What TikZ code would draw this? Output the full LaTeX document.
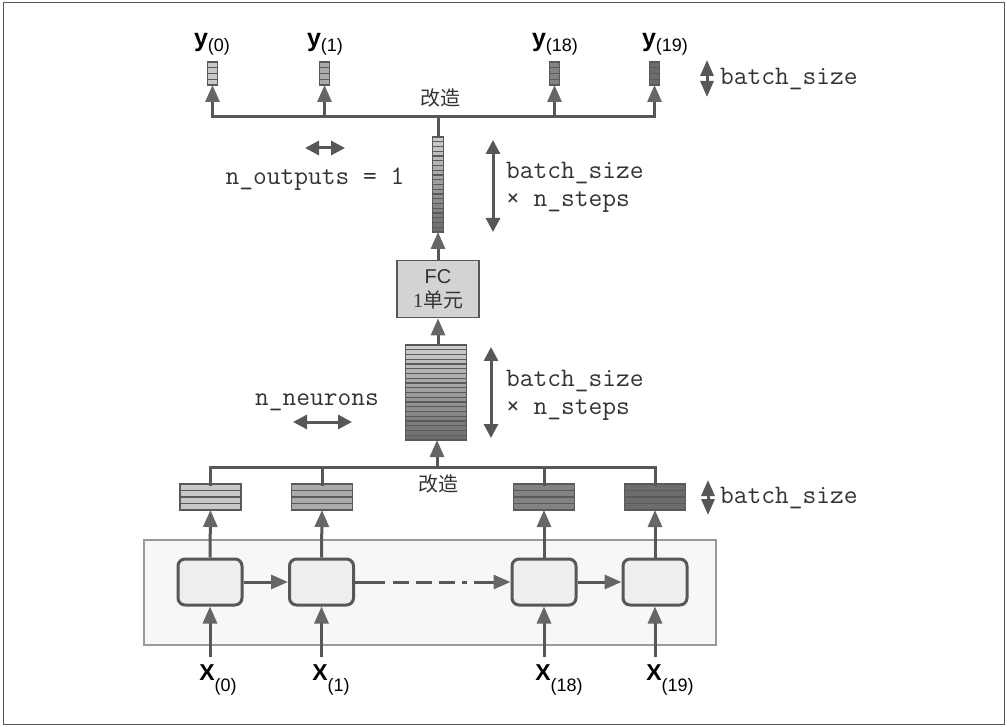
\documentclass[tikz,border=0pt]{standalone}
\usepackage{fontspec}
\setmainfont{Liberation Sans}
\newfontfamily\cjk{Noto Sans CJK SC}
\newfontfamily\serifone{Liberation Serif}
\usetikzlibrary{arrows.meta,calc}
\definecolor{linegray}{HTML}{575757}
\definecolor{tipgray}{HTML}{666666}
\definecolor{txtgray}{HTML}{333333}
\definecolor{framegray}{HTML}{555555}
\definecolor{cellfill}{HTML}{EEEEEE}
\definecolor{rnnfill}{HTML}{F6F7F6}
\definecolor{rnnedge}{HTML}{9A9A9A}
\definecolor{fcfill}{HTML}{D3D3D3}
\definecolor{sepcol}{HTML}{5A5A5A}
\definecolor{lightA}{HTML}{C8C8C8}
\definecolor{lightB}{HTML}{ABABAB}
\definecolor{darkA}{HTML}{838383}
\definecolor{darkB}{HTML}{6C6C6C}
\definecolor{gradtop}{HTML}{CDCDCD}
\definecolor{gradbot}{HTML}{6E6E6E}
\tikzset{
  plain/.style={line width=3pt, draw=linegray, line cap=rect},
  conn/.style={line width=3pt, draw=linegray, -{Triangle[length=17pt,width=14pt,fill=tipgray,color=tipgray]}},
  dbl/.style={line width=3pt, draw=linegray, {Triangle[length=14pt,width=14pt]}-{Triangle[length=14pt,width=14pt]}},
  sdbl/.style={line width=3pt, draw=linegray, {Triangle[length=16pt,width=13pt]}-{Triangle[length=16pt,width=13pt]}},
  barnode/.style={draw=none, inner sep=0pt, outer sep=0pt},
  sepline/.style={line width=1.2pt, draw=sepcol},
  barborder/.style={line width=1.6pt, draw=sepcol},
  cell/.style={draw=linegray, line width=3pt, fill=cellfill, rounded corners=7pt, minimum width=64pt, minimum height=46pt, inner sep=0pt},
  mono/.style={font=\fontsize{26.7}{28}\selectfont\ttfamily, text=txtgray, inner sep=0pt},
  cjklab/.style={font=\fontsize{20}{20}\selectfont\cjk, text=txtgray, inner sep=0pt},
  lab/.style={inner sep=0pt, text=black, anchor=base},
}
\newcommand\stripebar[4]{%
  \pgfmathtruncatemacro\sbm{#2-1}%
  \foreach \i in {1,...,#2}{%
    \pgfmathtruncatemacro\sbp{round(100*(\i-1)/(#2-1))}%
    \fill[#4!\sbp!#3] ($(#1.north west)!{(\i-1)/#2}!(#1.south west)$) rectangle ($(#1.north east)!{\i/#2}!(#1.south east)$);
  }%
  \foreach \i in {1,...,\sbm}{%
    \draw[sepline] ($(#1.north west)!{\i/#2}!(#1.south west)$) -- ($(#1.north east)!{\i/#2}!(#1.south east)$);
  }%
  \draw[barborder] (#1.north west) rectangle (#1.south east);
}
\newcommand\ylabel[1]{{\fontsize{25}{25}\selectfont\bfseries y}\raisebox{-5pt}{\fontsize{18}{18}\selectfont(#1)}}
\newcommand\xlabel[1]{{\fontsize{23}{23}\selectfont\bfseries X}\rlap{\raisebox{-11pt}{\fontsize{18}{18}\selectfont(#1)}}}
\begin{document}
\begin{tikzpicture}[x=1pt,y=-1pt]
\useasboundingbox (0,0) rectangle (1007,727);
\draw[framegray, line width=1pt] (3,3) rectangle (1004,724);

% RNN background
\node[draw=rnnedge, line width=1.5pt, fill=rnnfill, minimum width=572pt, minimum height=105pt, inner sep=0pt] (rnn) at (430,592.5) {};

% cells
\node[cell] (c0) at (210,582) {};
\node[cell] (c1) at (321.5,582) {};
\node[cell] (c18) at (544,582) {};
\node[cell] (c19) at (655,582) {};

% inputs
\node[lab] (x0) at (207,680) {\xlabel{0}};
\node[lab] (x1) at (320,680) {\xlabel{1}};
\node[lab] (x18) at (543,680) {\xlabel{18}};
\node[lab] (x19) at (654,680) {\xlabel{19}};
\coordinate (xs0) at (210,657);
\coordinate (xs1) at (321.5,657);
\coordinate (xs18) at (544,657);
\coordinate (xs19) at (655,657);
\foreach \k in {0,1,18,19}{\draw[conn] (xs\k) -- (c\k.south);}

% recurrent connections
\draw[conn] (c0.east) -- (c1.west);
\coordinate (d1) at ($(c1.east)+(30,0)$);
\coordinate (d2) at ($(c1.east)+(38,0)$);
\coordinate (d3) at ($(c18.west)+(-44,0)$);
\coordinate (d4) at ($(c18.west)+(-37,0)$);
\draw[line width=3pt, draw=linegray] (c1.east) -- (d1);
\draw[line width=3pt, draw=linegray, dash pattern=on 16pt off 7pt] (d2) -- (d3);
\draw[conn] (d4) -- (c18.west);
\draw[conn] (c18.east) -- (c19.west);

% per-step output bars
\node[barnode, minimum width=61pt, minimum height=26pt] (h0) at (210.5,497) {};
\node[barnode, minimum width=61pt, minimum height=26pt] (h1) at (322,497) {};
\node[barnode, minimum width=61pt, minimum height=26pt] (h18) at (544,497) {};
\node[barnode, minimum width=61pt, minimum height=26pt] (h19) at (655,497) {};
\stripebar{h0}{4}{lightA}{lightA}
\stripebar{h1}{4}{lightB}{lightB}
\stripebar{h18}{4}{darkA}{darkA}
\stripebar{h19}{4}{darkB}{darkB}
\foreach \k in {0,1,18,19}{\draw[conn] (c\k.north) -- (h\k.south);}

% reshape 1
\coordinate (jb) at (437,467);
\draw[plain] (h0.north) |- (jb) -| (h19.north);
\draw[plain] (h1.north) -- (h1.north |- jb);
\draw[plain] (h18.north) -- (h18.north |- jb);
\node[cjklab] (r1) at (438,484) {改造};

% stacked bar
\node[barnode, minimum width=61pt, minimum height=95pt] (wide) at (436,392.5) {};
\stripebar{wide}{20}{gradtop}{gradbot}
\draw[conn] (jb) -- (jb |- wide.south);

% FC
\node[draw=linegray, line width=1.8pt, fill=fcfill, minimum width=82pt, minimum height=57pt, inner sep=0pt] (fc) at (438,289) {};
\node[inner sep=0pt, text=txtgray, font=\fontsize{20}{20}\selectfont] (fct) at (438,277) {FC};
\node[inner sep=0pt, text=txtgray, font=\fontsize{20}{20}\selectfont\cjk] (fcu) at (438,300) {{\serifone 1}单元};
\draw[conn] (wide.north -| fc) -- (fc.south);

% narrow bar
\node[barnode, minimum width=11pt, minimum height=95pt] (narrow) at (438,184.5) {};
\stripebar{narrow}{20}{gradtop}{gradbot}
\draw[conn] (fc.north) -- (narrow.south);

% reshape 2
\coordinate (jt) at (438,117);
\draw[plain] (narrow.north) -- (jt);
\node[cjklab] (r2) at (440,98) {改造};

% y bars
\node[barnode, minimum width=10pt, minimum height=23pt] (yb0) at (212.5,73.5) {};
\node[barnode, minimum width=10pt, minimum height=23pt] (yb1) at (324.5,73.5) {};
\node[barnode, minimum width=10pt, minimum height=23pt] (yb18) at (554.5,73.5) {};
\node[barnode, minimum width=10pt, minimum height=23pt] (yb19) at (654.5,73.5) {};
\stripebar{yb0}{4}{lightA}{lightA}
\stripebar{yb1}{4}{lightB}{lightB}
\stripebar{yb18}{4}{darkA}{darkA}
\stripebar{yb19}{4}{darkB}{darkB}
\draw[plain] (jt -| yb0) -- (jt -| yb19);
\foreach \k in {0,1,18,19}{\draw[conn] (jt -| yb\k) -- (yb\k.south);}

\node[lab] (y0) at (212,47) {\ylabel{0}};
\node[lab] (y1) at (325,47) {\ylabel{1}};
\node[lab] (y18) at (555,47) {\ylabel{18}};
\node[lab] (y19) at (665,47) {\ylabel{19}};

% annotations
\coordinate (a1) at (707,60); \coordinate (a2) at (707,97);
\draw[sdbl] (a1) -- (a2);
\node[mono, anchor=west] (t1) at (720,79) {batch\_size};

\coordinate (b1) at (493,140); \coordinate (b2) at (493,232);
\draw[dbl] (b1) -- (b2);
\node[mono, anchor=west, align=left] (t2) at (506,187) {batch\_size\\× n\_steps};

\coordinate (e1) at (491,347); \coordinate (e2) at (491,438);
\draw[dbl] (e1) -- (e2);
\node[mono, anchor=west, align=left] (t3) at (506,395) {batch\_size\\× n\_steps};

\coordinate (f1) at (708,480); \coordinate (f2) at (708,515);
\draw[sdbl] (f1) -- (f2);
\node[mono, anchor=west] (t4) at (720,498) {batch\_size};

\coordinate (g1) at (305,148); \coordinate (g2) at (345,148);
\draw[dbl] (g1) -- (g2);
\node[mono] (t5) at (315,179) {n\_outputs = 1};

\coordinate (k1) at (293,422); \coordinate (k2) at (352,422);
\draw[dbl] (k1) -- (k2);
\node[mono] (t6) at (317,402) {n\_neurons};
\end{tikzpicture}
\end{document}
